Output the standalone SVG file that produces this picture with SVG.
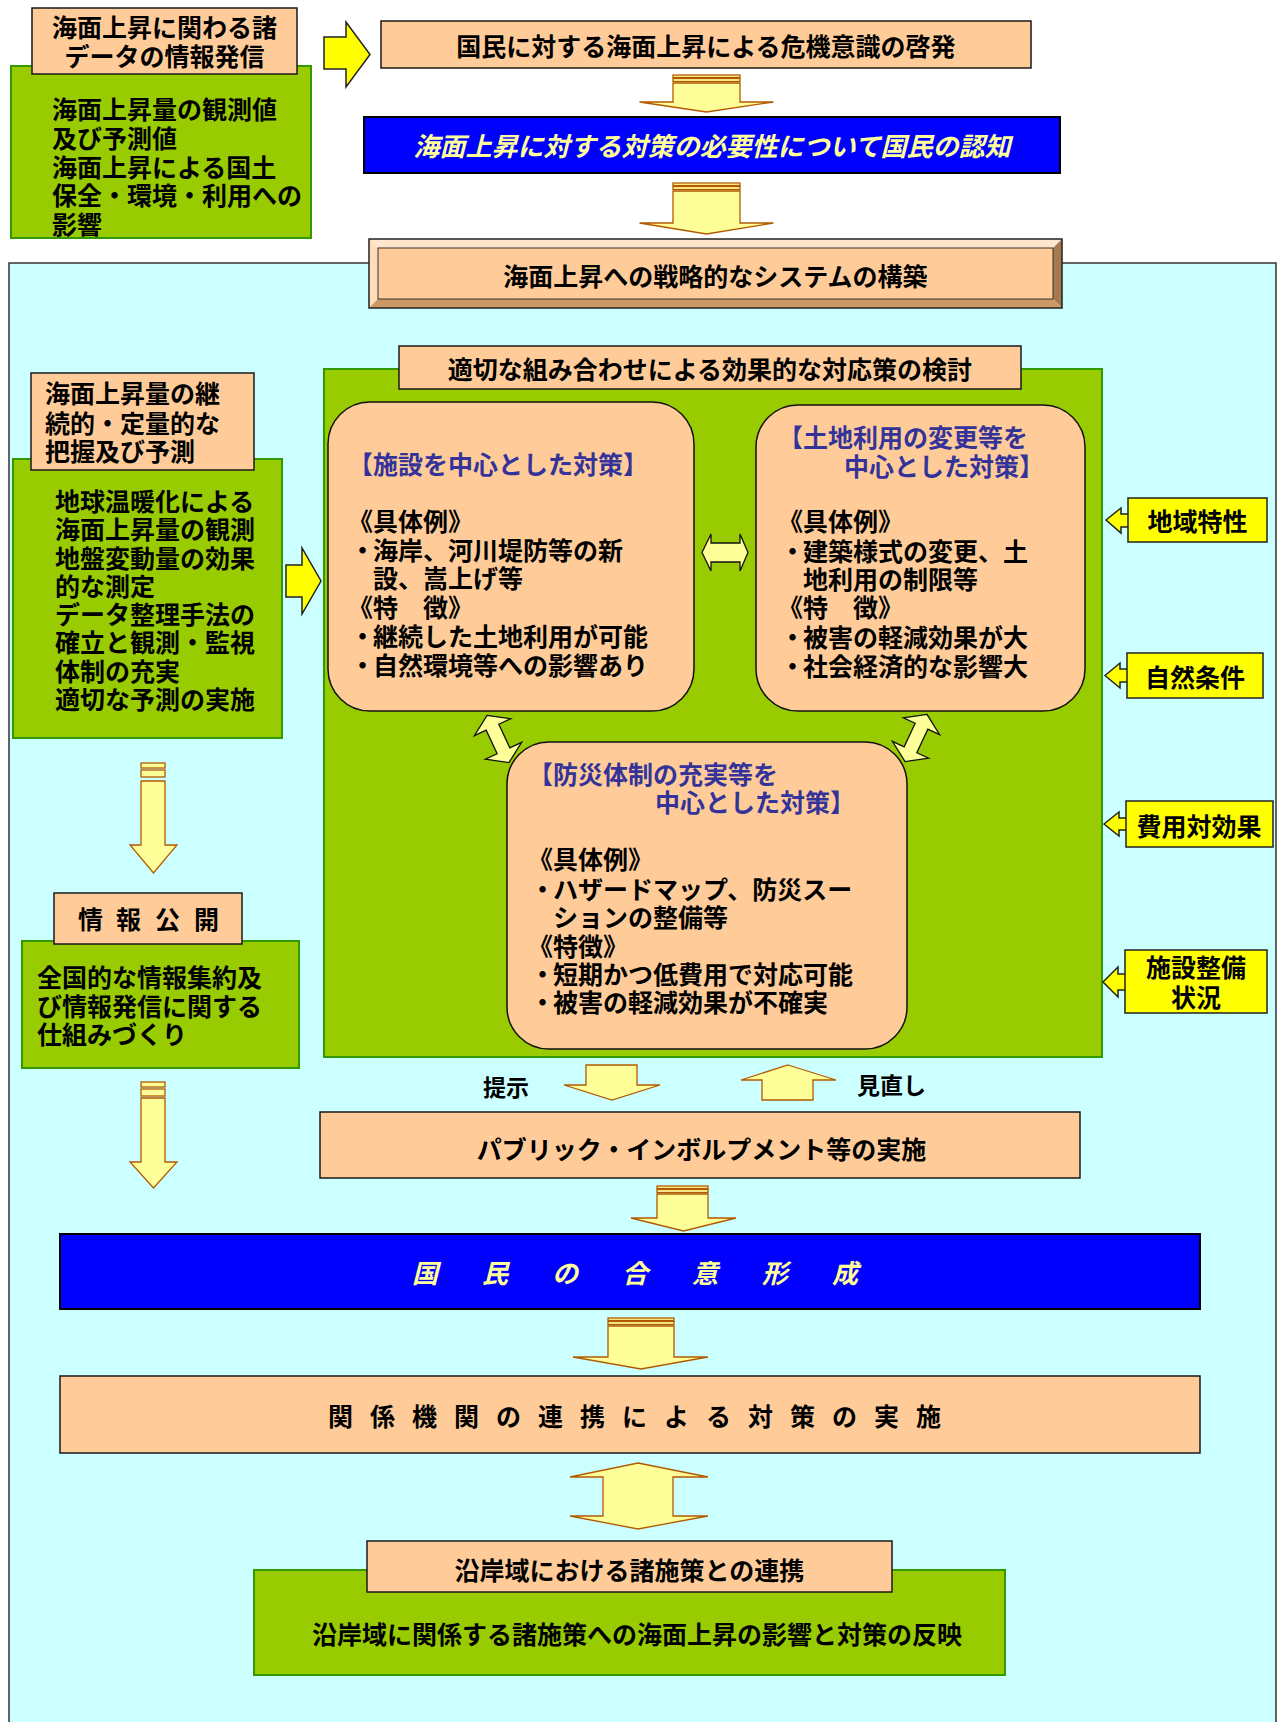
<svg xmlns="http://www.w3.org/2000/svg" width="1279" height="1722" viewBox="0 0 1279 1722">
<style>
.t{font-family:"Liberation Sans","Noto Sans CJK JP",sans-serif;font-weight:bold;font-size:25px;fill:#000}
.c{text-anchor:middle}
.bl{fill:#333399}
.it{fill:#FFFF99;font-style:italic;font-size:26px}
.sm{font-size:23px}
.org{fill:#FFCC99;stroke:#1a1a1a;stroke-width:1.5}
.grn{fill:#99CC00;stroke:#339900;stroke-width:2}
.blu{fill:#0000FF;stroke:#000;stroke-width:2}
.yel{fill:#FFFF00;stroke:#222;stroke-width:1.5}
.ybox{fill:#FFFF00;stroke:#222;stroke-width:1.5}
.arw{fill:#FFFF99;stroke:#B35A00;stroke-width:1.3}
.darw{fill:#FFFF99;stroke:#111;stroke-width:1.3}
.rnd{fill:#FFCC99;stroke:#111;stroke-width:1.5}
</style>
<rect width="1279" height="1722" fill="#fff"/>
<rect id="panel" x="9" y="263" width="1267" height="1480" fill="#CCFFFF" stroke="#333" stroke-width="1.5"/>

<g id="node-data-info">
<rect class="grn" x="11" y="66" width="300" height="172"/>
<rect class="org" x="32" y="8" width="265" height="66"/>
<text class="t c"><tspan x="164.5" y="37">海面上昇に関わる諸</tspan><tspan x="164.5" y="66">データの情報発信</tspan></text>
<text class="t"><tspan x="52" y="119">海面上昇量の観測値</tspan><tspan x="52" y="148">及び予測値</tspan><tspan x="52" y="177">海面上昇による国土</tspan><tspan x="52" y="205">保全・環境・利用への</tspan><tspan x="52" y="234">影響</tspan></text>
</g>

<g id="node-awareness">
<rect class="org" x="381" y="21" width="650" height="47"/>
<text class="t c" x="706" y="56">国民に対する海面上昇による危機意識の啓発</text>
</g>

<g id="node-recognition">
<rect class="blu" x="364" y="117" width="696" height="56"/>
<text class="t c it" x="712" y="156">海面上昇に対する対策の必要性について国民の認知</text>
</g>

<g id="node-strategy">
<polygon points="369,239 1062,239 1053,248 378,248" fill="#FFE5CC"/>
<polygon points="369,239 378,248 378,299 369,308" fill="#FFDDBB"/>
<polygon points="1062,239 1062,308 1053,299 1053,248" fill="#A47A4E"/>
<polygon points="369,308 1062,308 1053,299 378,299" fill="#CC9966"/>
<rect x="378" y="248" width="675" height="51" fill="#FFCC99" stroke="#333" stroke-width="1"/>
<rect x="369" y="239" width="693" height="69" fill="none" stroke="#222" stroke-width="1.5"/>
<text class="t c" x="715.5" y="286">海面上昇への戦略的なシステムの構築</text>
</g>

<g id="node-monitoring">
<rect class="grn" x="13" y="459" width="269" height="279"/>
<rect class="org" x="31" y="373" width="223" height="97"/>
<text class="t"><tspan x="45" y="403">海面上昇量の継</tspan><tspan x="45" y="433">続的・定量的な</tspan><tspan x="45" y="461">把握及び予測</tspan></text>
<text class="t"><tspan x="55" y="511">地球温暖化による</tspan><tspan x="55" y="539">海面上昇量の観測</tspan><tspan x="55" y="568">地盤変動量の効果</tspan><tspan x="55" y="596">的な測定</tspan><tspan x="55" y="624">データ整理手法の</tspan><tspan x="55" y="652">確立と観測・監視</tspan><tspan x="55" y="681">体制の充実</tspan><tspan x="55" y="709">適切な予測の実施</tspan></text>
</g>

<g id="node-study">
<rect class="grn" x="324" y="369" width="778" height="688"/>
<rect class="org" x="399" y="346" width="622" height="43"/>
<text class="t c" x="710" y="379">適切な組み合わせによる効果的な対応策の検討</text>
</g>

<g id="node-facility">
<rect class="rnd" x="328" y="402" width="366" height="309" rx="42" ry="42"/>
<text class="t bl" x="348" y="474">【施設を中心とした対策】</text>
<text class="t"><tspan x="348" y="531">《具体例》</tspan><tspan x="350" y="560">・</tspan><tspan x="373" y="560">海岸、河川堤防等の新</tspan><tspan x="373" y="588">設、嵩上げ等</tspan><tspan x="348" y="617">《特　徴》</tspan><tspan x="350" y="646">・</tspan><tspan x="373" y="646">継続した土地利用が可能</tspan><tspan x="350" y="675">・</tspan><tspan x="373" y="675">自然環境等への影響あり</tspan></text>
</g>

<g id="node-landuse">
<rect class="rnd" x="756" y="405" width="329" height="306" rx="42" ry="42"/>
<text class="t bl"><tspan x="778" y="447">【土地利用の変更等を</tspan><tspan x="844" y="476">中心とした対策】</tspan></text>
<text class="t"><tspan x="778" y="531">《具体例》</tspan><tspan x="780" y="561">・</tspan><tspan x="803" y="561">建築様式の変更、土</tspan><tspan x="803" y="589">地利用の制限等</tspan><tspan x="778" y="617">《特　徴》</tspan><tspan x="780" y="647">・</tspan><tspan x="803" y="647">被害の軽減効果が大</tspan><tspan x="780" y="676">・</tspan><tspan x="803" y="676">社会経済的な影響大</tspan></text>
</g>

<g id="node-disaster">
<rect class="rnd" x="507" y="742" width="400" height="307" rx="42" ry="42"/>
<text class="t bl"><tspan x="528" y="784">【防災体制の充実等を</tspan><tspan x="655" y="812">中心とした対策】</tspan></text>
<text class="t"><tspan x="528" y="869">《具体例》</tspan><tspan x="530" y="899">・</tspan><tspan x="553" y="899">ハザードマップ、防災スー</tspan><tspan x="553" y="927">ションの整備等</tspan><tspan x="528" y="956">《特徴》</tspan><tspan x="530" y="984">・</tspan><tspan x="553" y="984">短期かつ低費用で対応可能</tspan><tspan x="530" y="1012">・</tspan><tspan x="553" y="1012">被害の軽減効果が不確実</tspan></text>
</g>

<g id="node-disclosure">
<rect class="grn" x="22" y="941" width="277" height="127"/>
<rect class="org" x="54" y="893" width="188" height="51"/>
<text class="t" x="78 116 155 194" y="929">情報公開</text>
<text class="t"><tspan x="37" y="987">全国的な情報集約及</tspan><tspan x="37" y="1016">び情報発信に関する</tspan><tspan x="37" y="1044">仕組みづくり</tspan></text>
</g>

<g id="connectors">
<polygon class="yel" points="324,37 346,37 346,22 370,54.5 346,87 346,69 324,69"/>
<polygon class="yel" points="286,565 302,565 302,548 321,581 302,614 302,597 286,597"/>
<g>
<polygon class="arw" points="673,83 740,83 740,102 773.5,102 706.5,112 639.5,102 673,102"/>
<rect class="arw" x="673" y="75" width="67" height="2.5"/>
<rect class="arw" x="673" y="78.5" width="67" height="3"/>
</g>
<g>
<polygon class="arw" points="673,191 740,191 740,223 773.5,223 706.5,234 639.5,223 673,223"/>
<rect class="arw" x="673" y="183" width="67" height="2.5"/>
<rect class="arw" x="673" y="186.5" width="67" height="3"/>
</g>
<g>
<polygon class="arw" points="141,781 165,781 165,845 177,845 153.5,873 130,845 141,845"/>
<rect class="arw" x="141" y="763" width="24" height="5"/>
<rect class="arw" x="141" y="770" width="24" height="7"/>
</g>
<g>
<polygon class="arw" points="141,1098 165,1098 165,1162 177,1162 153.5,1188 130,1162 141,1162"/>
<rect class="arw" x="141" y="1082" width="24" height="5"/>
<rect class="arw" x="141" y="1089" width="24" height="7"/>
</g>
<g>
<polygon class="arw" points="657,1194 708,1194 708,1218 736,1218 683.5,1231 631,1218 657,1218"/>
<rect class="arw" x="657" y="1186" width="51" height="2.5"/>
<rect class="arw" x="657" y="1189.5" width="51" height="3"/>
</g>
<g>
<polygon class="arw" points="608,1326 674,1326 674,1357 708,1357 641,1369 573,1357 608,1357"/>
<rect class="arw" x="608" y="1318" width="66" height="2.5"/>
<rect class="arw" x="608" y="1321.5" width="66" height="3"/>
</g>
<polygon class="arw" points="586,1065 637,1065 637,1085 660,1085 612,1100 564,1085 586,1085"/>
<polygon class="arw" points="788,1065 836,1080 813,1080 813,1100 762,1100 762,1080 741,1080"/>
<polygon class="arw" points="638,1463 708,1477 673,1477 673,1516 708,1516 638,1529 570,1516 603,1516 603,1477 570,1477"/>
<polygon class="darw" points="702,552.5 711,534 711,543 740,543 740,534 748,552.5 740,571 740,562 711,562 711,571"/>
<polygon class="darw" transform="translate(498,739) rotate(-25)" points="0,-26 20,-13 7,-13 7,13 20,13 0,26 -20,13 -7,13 -7,-13 -20,-13"/>
<polygon class="darw" transform="translate(916,738) rotate(25)" points="0,-26 20,-13 7,-13 7,13 20,13 0,26 -20,13 -7,13 -7,-13 -20,-13"/>
<polygon class="yel" points="1106,520 1121,508 1121,514 1131,514 1131,527 1121,527 1121,533"/>
<polygon class="yel" points="1105,675.5 1120,663 1120,669 1130,669 1130,682 1120,682 1120,688"/>
<polygon class="yel" points="1104,824 1119,812 1119,818 1129,818 1129,830 1119,830 1119,836"/>
<polygon class="yel" points="1103,982 1118,967 1118,974 1128,974 1128,990 1118,990 1118,997"/>
<text class="t sm" x="483" y="1096">提示</text>
<text class="t sm" x="857" y="1094">見直し</text>
</g>

<g id="node-regional">
<rect class="ybox" x="1128" y="498" width="139" height="44"/>
<text class="t c" x="1197.5" y="531">地域特性</text>
</g>
<g id="node-natural">
<rect class="ybox" x="1127" y="653" width="136" height="45"/>
<text class="t c" x="1195" y="687">自然条件</text>
</g>
<g id="node-cost">
<rect class="ybox" x="1126" y="801" width="147" height="46"/>
<text class="t c" x="1199" y="836">費用対効果</text>
</g>
<g id="node-facility-status">
<rect class="ybox" x="1125" y="950" width="142" height="63"/>
<text class="t c"><tspan x="1196" y="977">施設整備</tspan><tspan x="1196" y="1007">状況</tspan></text>
</g>

<g id="node-pi">
<rect class="org" x="320" y="1112" width="760" height="66"/>
<text class="t c" x="701.5" y="1159">パブリック・インボルプメント等の実施</text>
</g>

<g id="node-consensus">
<rect class="blu" x="60" y="1234" width="1140" height="75"/>
<text class="t it" x="412 482 552 622 692 762 832" y="1283">国民の合意形成</text>
</g>

<g id="node-implementation">
<rect class="org" x="60" y="1376" width="1140" height="77"/>
<text class="t" x="328 370 412 454 496 538 580 622 664 706 748 790 832 874 916" y="1426">関係機関の連携による対策の実施</text>
</g>

<g id="node-coastal">
<rect class="grn" x="254" y="1570" width="751" height="105"/>
<rect class="org" x="367" y="1541" width="525" height="51"/>
<text class="t c" x="629.5" y="1580">沿岸域における諸施策との連携</text>
<text class="t" x="312" y="1644">沿岸域に関係する諸施策への海面上昇の影響と対策の反映</text>
</g>
</svg>
